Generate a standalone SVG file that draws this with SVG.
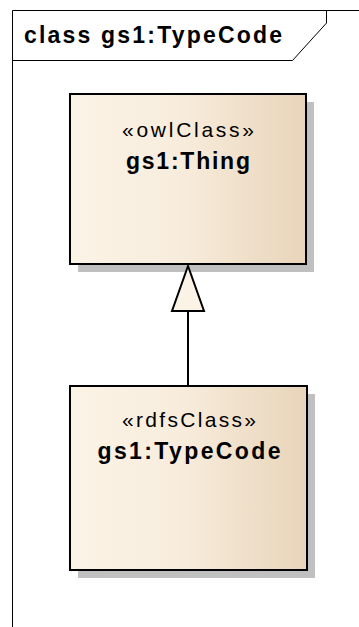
<svg xmlns="http://www.w3.org/2000/svg" width="359" height="627" viewBox="0 0 359 627">
<style>
.frame{fill:none;stroke:#000;stroke-width:1}
.shadow{fill:#c0c0c0}
.box{fill:url(#g);stroke:#000;stroke-width:2}
.st{font-family:"Liberation Sans",Arial,sans-serif;font-size:21px;fill:#000;text-anchor:middle}
.nm{font-family:"Liberation Sans",Arial,sans-serif;font-size:23px;font-weight:bold;fill:#000;text-anchor:middle}
.conn{fill:none;stroke:#000;stroke-width:2}
</style>
<defs>
<linearGradient id="g" x1="0" y1="0" x2="1" y2="0">
<stop offset="0" stop-color="#fbf3e6"/>
<stop offset="0.45" stop-color="#f8eddd"/>
<stop offset="1" stop-color="#e8d4b9"/>
</linearGradient>
</defs>
<rect width="359" height="627" fill="#fff"/>
<g id="frame">
<path class="frame" d="M12.5,627 V10.5 H359"/>
<path class="frame" d="M12.5,60.5 H292.5 L326.5,23 V10.5"/>
<text x="24" y="43" font-family="'Liberation Sans',Arial,sans-serif" font-size="23" font-weight="bold" textLength="258" lengthAdjust="spacing">class gs1:TypeCode</text>
</g>
<g id="node-thing">
<rect class="shadow" x="78" y="102" width="236" height="170"/>
<rect class="box" x="70" y="94" width="236" height="170"/>
<text class="st" x="188" y="137" textLength="132" lengthAdjust="spacing">«owlClass»</text>
<text class="nm" x="188" y="169" textLength="124" lengthAdjust="spacing">gs1:Thing</text>
</g>
<g id="node-typecode">
<rect class="shadow" x="78" y="394" width="237" height="184"/>
<rect class="box" x="70" y="386" width="237" height="184"/>
<text class="st" x="189" y="427" textLength="134" lengthAdjust="spacing">«rdfsClass»</text>
<text class="nm" x="189" y="459" textLength="183" lengthAdjust="spacing">gs1:TypeCode</text>
</g>
<g id="connectors">
<line class="conn" x1="188" y1="311" x2="188" y2="386"/>
<polygon points="188,266 172,311 204,311" fill="#fbf3e6" stroke="#000" stroke-width="2" stroke-linejoin="miter"/>
</g>
</svg>
